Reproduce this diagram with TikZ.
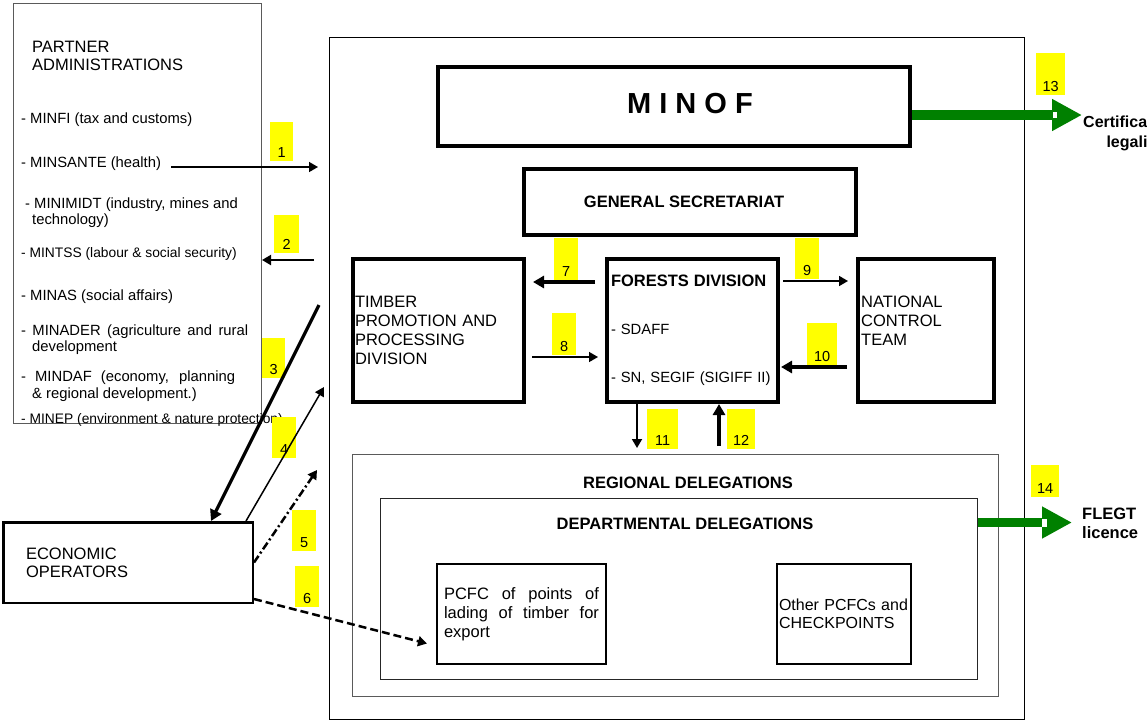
\documentclass[tikz,border=0pt]{standalone}
\usepackage{fontspec}
\setmainfont{Liberation Sans}
\usepackage{tikz}
\usetikzlibrary{arrows.meta}
\definecolor{mygreen}{RGB}{0,128,0}
\definecolor{myyellow}{RGB}{255,255,0}
\definecolor{mygray}{RGB}{90,90,90}
\newcommand{\sizeitem}{\fontsize{14.8}{16.5}\selectfont}
\newcommand{\sizetight}{\fontsize{13.8}{16.5}\selectfont}
\newcommand{\sizehead}{\fontsize{16.5}{19}\selectfont}
\newcommand{\sizetag}{\fontsize{14.5}{16}\selectfont}
\newcommand{\sizetitle}{\fontsize{29}{32}\selectfont}
\newcommand{\widthunit}{171pt}
\newcommand{\heightunit}{143pt}
\tikzset{
    common/.style={anchor=north west, draw, rectangle, inner sep=0pt},
    frame/.style={common, draw=mygray, line width=1pt},
    unit/.style={common, line width=4pt},
    post/.style={common, line width=2pt},
    txt/.style={anchor=west, inner sep=0pt, align=left},
    numtag/.style={fill=myyellow, anchor=south west, inner sep=0pt, text depth=3pt, font=\sizetag},
    flow/.style={line width=1.4pt, -{Triangle[length=9pt, width=10pt]}},
    heavyflow/.style={flow, line width=3.2pt, -{Triangle[length=11pt, width=12pt]}},
    greenflow/.style={draw=mygreen, line width=10pt, -{Triangle[length=30pt, width=30pt]}},
    notch/.style={fill=white}
}
\begin{document}
\begin{tikzpicture}[x=1pt, y=-1pt]
    \useasboundingbox (0,0) rectangle (1147,721);

    \node[common, line width=1pt, minimum width=695pt, minimum height=682pt] (minof-area) at (329,37) {};
    \node[frame, minimum width=248pt, minimum height=420pt] (partner) at (13,3) {};
    \node[unit, minimum width=472pt, minimum height=79pt] (minof) at (436,65) {};
    \node[unit, minimum width=332pt, minimum height=66pt, font=\sizehead\bfseries] (gensec) at (522,167) {GENERAL SECRETARIAT\hspace*{12pt}};
    \node[unit, minimum width=\widthunit, minimum height=\heightunit, text width=167pt, inner xsep=2pt, align=left, font=\sizehead] (tpd) at (351,257) {TIMBER\\PROMOTION AND\\PROCESSING\\DIVISION};
    \node[unit, minimum width=\widthunit, minimum height=\heightunit, text width=163pt, inner xsep=4pt, align=left, font=\sizeitem] (fd) at (605,257) {{\sizehead\bfseries FORESTS DIVISION}\\[31.5pt]- SDAFF\\[31.5pt]- SN, SEGIF (SIGIFF II)};
    \node[unit, minimum width=136pt, minimum height=\heightunit] (nct) at (856,257) {};
    \node[frame, line width=1.3pt, minimum width=645.7pt, minimum height=241.7pt] (rd) at (352,454) {};
    \node[frame, draw=black!85, minimum width=597pt, minimum height=181pt] (dd) at (380,498) {};
    \node[post, minimum width=169pt, minimum height=100pt, inner xsep=7pt, inner ysep=0pt, align=left, font=\sizehead] (pcfc) at (436,563) {\makebox[155pt][s]{PCFC of points of}\\\makebox[155pt][s]{lading of timber for}\\export};
    \node[common, line width=1.6pt, minimum width=134.4pt, minimum height=100.4pt, text width=130pt, inner xsep=2.2pt, align=left, font=\fontsize{16}{17.5}\selectfont] (other) at (776,563) {Other PCFCs and\\CHECKPOINTS};
    \node[common, line width=2.5pt, minimum width=249.5pt, minimum height=80.5pt, text width=204pt, inner xsep=22.75pt, align=left, font=\fontsize{16.5}{18}\selectfont] (eco) at (2,521) {ECONOMIC\\OPERATORS};

    \node[font=\sizetitle\bfseries] (minof-text) at (690,104) {M I N O F};
    \node[txt, font=\sizehead] (nct-text) at (861,321) {NATIONAL\\CONTROL\\TEAM};
    \node[font=\sizehead\bfseries] (rd-text) at (688,483) {REGIONAL DELEGATIONS};
    \node[font=\sizehead\bfseries] (dd-text) at (685,524) {DEPARTMENTAL DELEGATIONS};
    \node[txt, align=center, font=\fontsize{16}{20}\selectfont\bfseries] (cert-text) at (1083,133) {Certificate of\\\hspace*{4pt}legality};
    \node[txt, font=\fontsize{16.5}{19}\selectfont\bfseries] (flegt-text) at (1082,523) {FLEGT\\licence};

    \node[txt, font=\fontsize{16.5}{18}\selectfont] (partner-head) at (32,56) {PARTNER\\ADMINISTRATIONS};
    \node[txt, font=\sizeitem] (minfi) at (21,120) {- MINFI (tax and customs)};
    \node[txt, font=\sizeitem] (minsante) at (21,164) {- MINSANTE (health)};
    \node[txt, font=\sizeitem] (minimidt) at (25,212.5) {- MINIMIDT (industry, mines and\\\hspace*{7pt}technology)};
    \node[txt, font=\sizetight] (mintss) at (21,254) {- MINTSS (labour \& social security)};
    \node[txt, font=\sizeitem] (minas) at (21,297) {- MINAS (social affairs)};
    \node[txt, font=\sizeitem] (minader) at (21,339.5) {\makebox[227pt][s]{- MINADER (agriculture and rural}\\\hspace*{11pt}development};
    \node[txt, font=\sizeitem] (mindaf) at (21,386) {\makebox[214pt][s]{- MINDAF (economy, planning}\\\hspace*{11pt}\& regional development.)};
    \node[txt, font=\sizetight] (minep) at (21,419.5) {- MINEP (environment \& nature protection)};

    \node[numtag, minimum width=23pt, text height=36pt] (tag1) at (270,161) {1};
    \node[numtag, minimum width=25pt, text height=35pt] (tag2) at (274,253) {2};
    \node[numtag, minimum width=23pt, text height=37pt] (tag3) at (262,378) {3};
    \node[numtag, minimum width=24pt, text height=38pt] (tag4) at (272,458) {4};
    \node[numtag, minimum width=24pt, text height=38pt] (tag5) at (292,551) {5};
    \node[numtag, minimum width=24pt, text height=38pt] (tag6) at (295,607) {6};
    \node[numtag, minimum width=24pt, text height=39pt] (tag7) at (554,280) {7};
    \node[numtag, minimum width=24pt, text height=39pt] (tag8) at (552,355) {8};
    \node[numtag, minimum width=24pt, text height=38pt] (tag9) at (795,279) {9};
    \node[numtag, minimum width=30pt, text height=39pt] (tag10) at (807,365) {10};
    \node[numtag, minimum width=31pt, text height=37pt] (tag11) at (647,449) {11};
    \node[numtag, minimum width=28pt, text height=37pt] (tag12) at (727,449) {12};
    \node[numtag, minimum width=29pt, text height=39pt] (tag13) at (1036,95) {13};
    \node[numtag, minimum width=28pt, text height=29pt] (tag14) at (1031,497) {14};

    \coordinate (a1-start) at (171,167);
    \coordinate (a1-end) at (318,167);
    \coordinate (a2-start) at (314,260);
    \coordinate (a3-start) at (319,305);
    \coordinate (a4-end) at (324,387);
    \coordinate (a5-end) at (317,470);
    \coordinate (a7-start) at (595,282);
    \coordinate (a7-end) at (533,282);
    \coordinate (a8-start) at (532,357);
    \coordinate (a8-end) at (598,357);
    \coordinate (a9-start) at (783,281);
    \coordinate (a9-end) at (848,281);
    \coordinate (a10-start) at (847,367);
    \coordinate (a10-end) at (781,367);
    \coordinate (a11-end) at (637,448);
    \coordinate (a12-start) at (719,446);
    \coordinate (cert) at (1082,115);
    \coordinate (flegt) at (1072,522.5);

    \draw[flow] (a1-start) -- (a1-end);
    \draw[flow, line width=2pt] (a2-start) -- (partner.east |- a2-start);
    \draw[heavyflow] (a3-start) -- ([xshift=83pt]eco.north);
    \draw[flow, line width=1.5pt] ([xshift=118pt]eco.north) -- (a4-end);
    \draw[flow, line width=2.5pt, dash pattern=on 8pt off 3pt on 2pt off 3pt] (eco.east) -- (a5-end);
    \draw[flow, line width=2.5pt, dash pattern=on 8pt off 4pt] ([yshift=-36.5pt]eco.east) -- ([xshift=-9pt, yshift=-29.5pt]pcfc.west);
    \draw[heavyflow] (a7-start) -- (a7-end);
    \draw[flow] (a8-start) -- (a8-end);
    \draw[flow, line width=1.7pt] (a9-start) -- (a9-end);
    \draw[heavyflow] (a10-start) -- (a10-end);
    \draw[flow, line width=1.7pt] ([xshift=-55.5pt]fd.south) -- (a11-end);
    \draw[heavyflow] (a12-start) -- ([xshift=26.5pt]fd.south);
    \draw[greenflow] ([yshift=-8.5pt]minof.east) -- (cert);
    \fill[notch] ([xshift=-29pt, yshift=3pt]cert) rectangle ([xshift=-25pt, yshift=-3pt]cert);
    \draw[greenflow, line width=9pt] ([yshift=66.5pt]dd.east) -- (flegt);
    \fill[notch] ([xshift=-30pt, yshift=3.5pt]flegt) rectangle ([xshift=-25pt, yshift=-4pt]flegt);
\end{tikzpicture}
\end{document}
